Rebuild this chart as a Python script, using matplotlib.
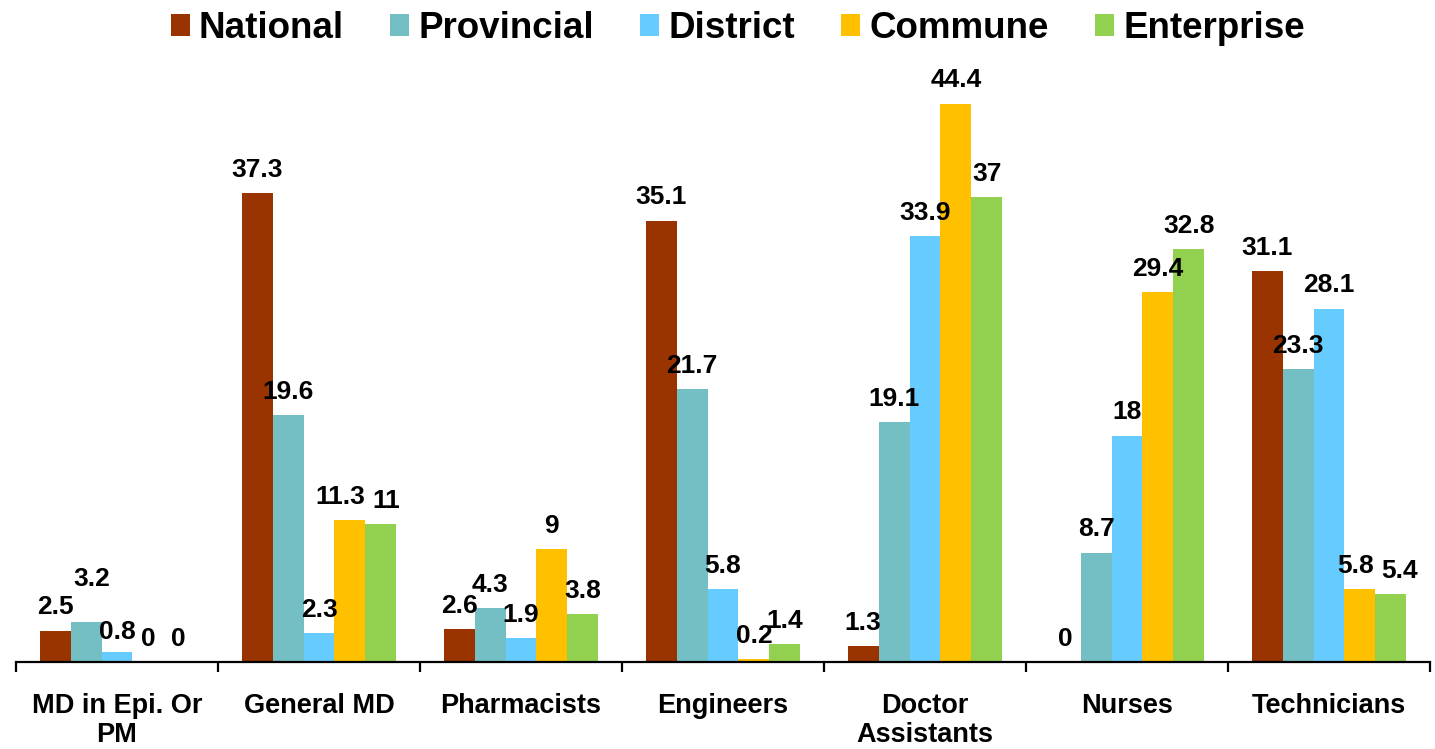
import matplotlib
matplotlib.use("Agg")
import matplotlib.pyplot as plt
import numpy as np

plt.rcParams['font.family'] = ['Liberation Sans', 'DejaVu Sans']
plt.rcParams['font.weight'] = 'bold'

categories = ["MD in Epi. Or\nPM", "General MD", "Pharmacists", "Engineers",
              "Doctor\nAssistants", "Nurses", "Technicians"]
series = ["National", "Provincial", "District", "Commune", "Enterprise"]
national = [2.5, 37.3, 2.6, 35.1, 1.3, 0, 31.1]
provincial = [3.2, 19.6, 4.3, 21.7, 19.1, 8.7, 23.3]
district = [0.8, 2.3, 1.9, 5.8, 33.9, 18, 28.1]
commune = [0, 11.3, 9, 0.2, 44.4, 29.4, 5.8]
enterprise = [0, 11, 3.8, 1.4, 37, 32.8, 5.4]
colors = ["#993300", "#74BFC3", "#66CCFF", "#FFC000", "#92D050"]

values = [national, provincial, district, commune, enterprise]

# label nudges (series index, category index) -> (dx, dy) in points
nudge = {(1, 0): (4, 14), (2, 0): (0, -2), (3, 1): (-7, 0), (4, 1): (4, 0),
         (3, 6): (-3, 0), (4, 6): (6, 0)}

fig = plt.figure(figsize=(14.35, 7.49), dpi=100)
ax = fig.add_axes([16 / 1435, 87 / 749, 1414 / 1435, 566 / 749])

x = np.arange(len(categories))
width = 0.153
for i, (name, vals, col) in enumerate(zip(series, values, colors)):
    pos = x + (i - 2) * width
    ax.bar(pos, vals, width, color=col, label=name, linewidth=0)
    for j, (xp, v) in enumerate(zip(pos, vals)):
        dx, dy = nudge.get((i, j), (0, 0))
        ax.annotate(f"{v:g}", (xp, v), xytext=(dx, 8 + dy), textcoords="offset points",
                    ha="center", va="bottom", fontsize=19, fontweight="bold")

ax.set_xlim(-0.5, len(categories) - 0.5)
ax.set_ylim(0, 45)
for s in ["left", "right", "top"]:
    ax.spines[s].set_visible(False)
ax.spines["bottom"].set_linewidth(1.6)
ax.set_yticks([])

ax.set_xticks(x)
ax.set_xticklabels(categories, fontsize=19.5, fontweight="bold", linespacing=1.15)
ax.tick_params(axis="x", which="major", length=0, pad=22)
ax.set_xticks(np.arange(-0.5, len(categories), 1), minor=True)
ax.tick_params(axis="x", which="minor", length=7, width=1.6, direction="out")

fig.legend(loc="center", bbox_to_anchor=(0.514, 0.962), ncol=5, frameon=False,
           handlelength=0.52, handleheight=0.52,
           handletextpad=0.25, columnspacing=1.25,
           prop={"weight": "bold", "size": 26.5})

fig.savefig("out.png", dpi=100)
